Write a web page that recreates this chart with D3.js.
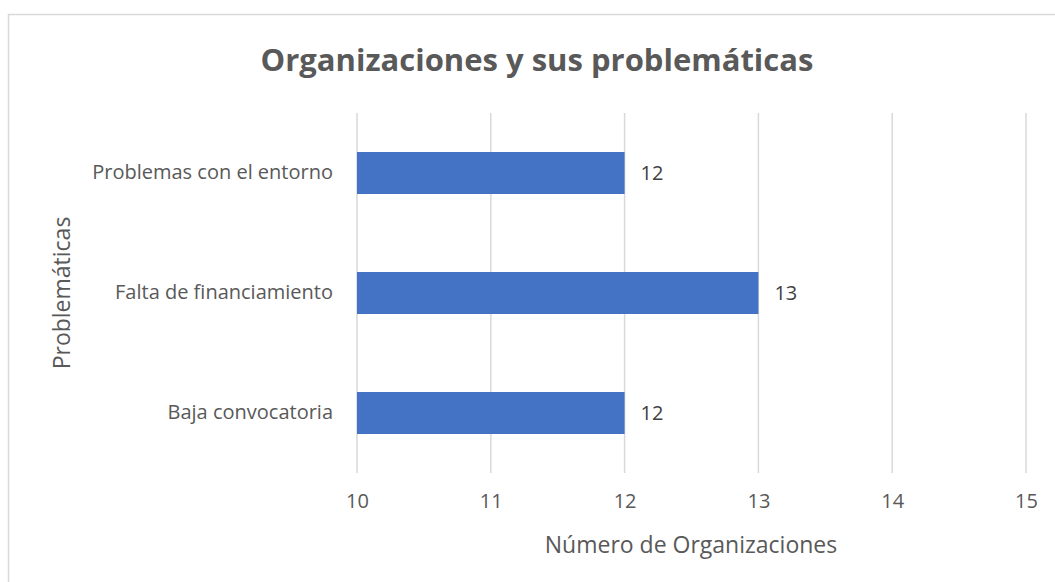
<!DOCTYPE html>
<html>
<head>
<meta charset="utf-8">
<script src="https://cdn.jsdelivr.net/npm/d3@7"></script>
<style>
  body { margin: 0; background: #fff; }
  svg text { font-family: "Open Sans", "Noto Sans", sans-serif; }
</style>
</head>
<body>
<div id="chart"></div>
<script>
// categories, top to bottom
const categories = ["Problemas con el entorno", "Falta de financiamiento", "Baja convocatoria"];
const values = [12, 13, 12];
const xTicks = [10, 11, 12, 13, 14, 15];

const W = 1055, H = 582;
const plot = { left: 357, right: 1026, top: 113, bottom: 473 };

const svg = d3.select("#chart")
  .append("svg")
  .attr("width", W)
  .attr("height", H);

// chart border (extends past right and bottom edges)
svg.append("rect")
  .attr("x", 8.5)
  .attr("y", 14.5)
  .attr("width", W + 20)
  .attr("height", H + 20)
  .attr("fill", "none")
  .attr("stroke", "#d9d9d9")
  .attr("stroke-width", 1.5);

const x = d3.scaleLinear()
  .domain([10, 15])
  .range([plot.left, plot.right]);

const y = d3.scaleBand()
  .domain(categories)
  .range([plot.top, plot.bottom])
  .paddingInner(0.65)
  .paddingOuter(0.325);

// gridlines
svg.append("g")
  .selectAll("line")
  .data(xTicks)
  .enter()
  .append("line")
  .attr("x1", d => x(d))
  .attr("x2", d => x(d))
  .attr("y1", plot.top)
  .attr("y2", plot.bottom)
  .attr("stroke", "#d9d9d9")
  .attr("stroke-width", 1.5);

// bars
svg.append("g")
  .selectAll("rect")
  .data(categories)
  .enter()
  .append("rect")
  .attr("x", x(10))
  .attr("y", d => y(d))
  .attr("width", (d, i) => x(values[i]) - x(10))
  .attr("height", y.bandwidth())
  .attr("fill", "#4472c4");

// data labels
svg.append("g")
  .selectAll("text")
  .data(categories)
  .enter()
  .append("text")
  .attr("x", (d, i) => x(values[i]) + 16)
  .attr("y", d => y(d) + y.bandwidth() / 2)
  .attr("dy", "0.35em")
  .attr("font-size", 20)
  .attr("fill", "#404040")
  .text((d, i) => values[i]);

// category labels
const yAxis = svg.append("g")
  .attr("transform", `translate(${plot.left},0)`)
  .call(d3.axisLeft(y).tickSize(0).tickPadding(24));
yAxis.select(".domain").remove();
yAxis.selectAll("text")
  .attr("font-size", 20)
  .attr("fill", "#595959")
  .style("font-family", "'Open Sans', 'Noto Sans', sans-serif");

// x tick labels
const xAxis = svg.append("g")
  .attr("transform", `translate(0,${plot.bottom})`)
  .call(d3.axisBottom(x).tickValues(xTicks).tickFormat(d3.format("d")).tickSize(0).tickPadding(21));
xAxis.select(".domain").remove();
xAxis.selectAll("text")
  .attr("font-size", 20)
  .attr("fill", "#595959")
  .style("font-family", "'Open Sans', 'Noto Sans', sans-serif");

// title
svg.append("text")
  .attr("x", 537)
  .attr("y", 71)
  .attr("text-anchor", "middle")
  .attr("font-size", 31)
  .attr("font-weight", "bold")
  .attr("fill", "#595959")
  .text("Organizaciones y sus problemáticas");

// axis titles
svg.append("text")
  .attr("x", 691)
  .attr("y", 553)
  .attr("text-anchor", "middle")
  .attr("font-size", 23)
  .attr("fill", "#595959")
  .text("Número de Organizaciones");

svg.append("text")
  .attr("text-anchor", "middle")
  .attr("transform", `translate(70,${(plot.top + plot.bottom) / 2})rotate(-90)`)
  .attr("font-size", 23)
  .attr("fill", "#595959")
  .text("Problemáticas");
</script>
</body>
</html>
